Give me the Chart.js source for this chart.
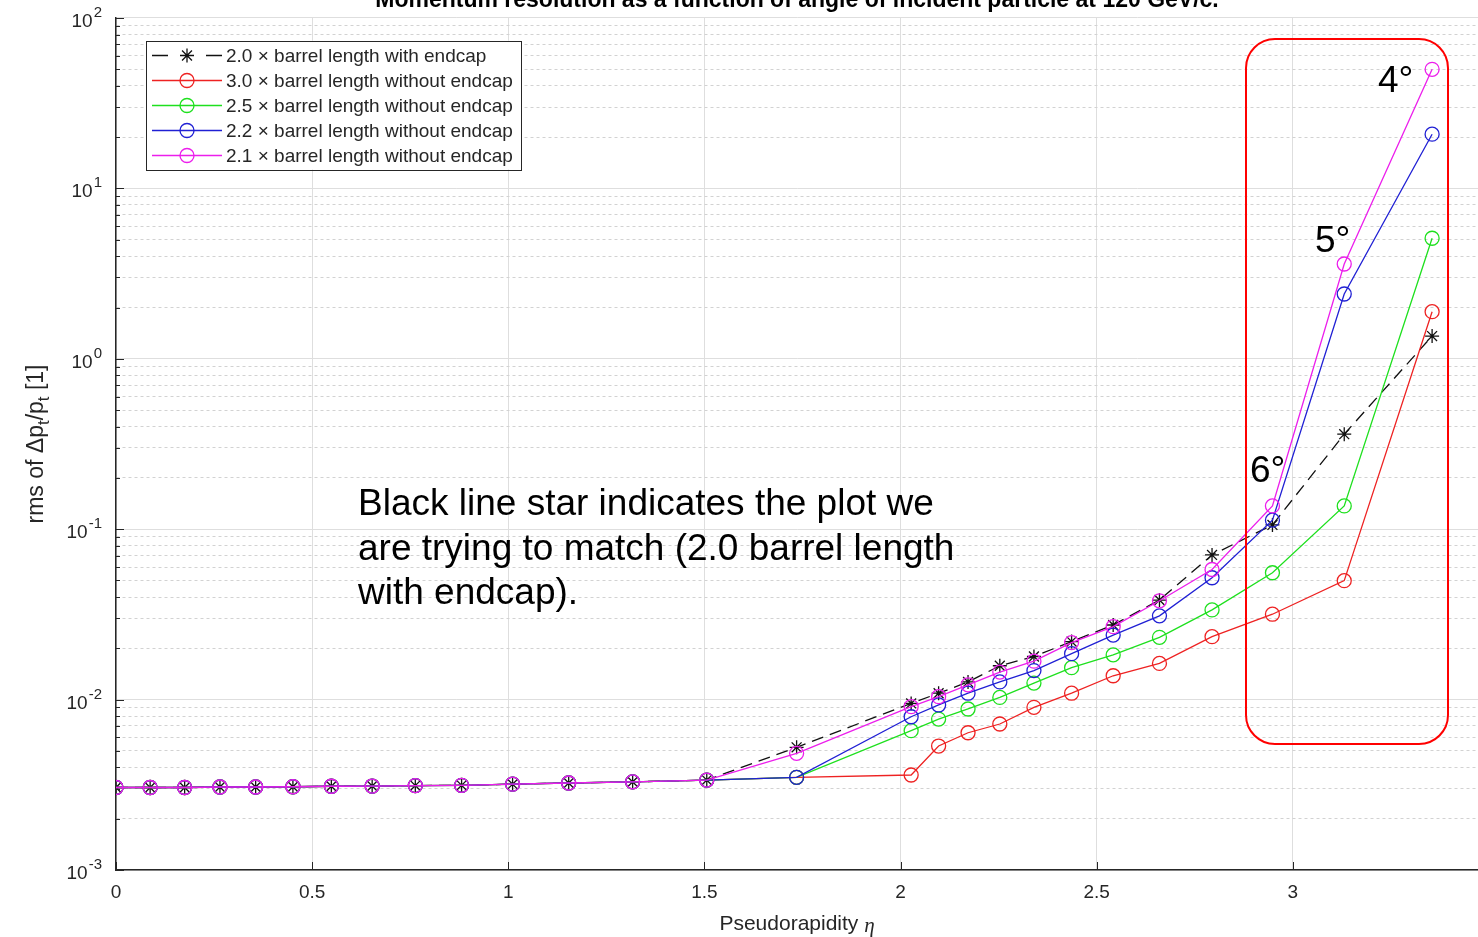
<!DOCTYPE html>
<html lang="en">
<head>
<meta charset="UTF-8">
<title>Momentum resolution</title>
<script src="https://cdn.jsdelivr.net/npm/chart.js"></script>
<style>
  body {
    margin: 0;
    padding: 0;
    background: #fff;
    overflow: hidden;
    font-family: "Liberation Sans", Arial, sans-serif;
  }
  .wrap {
    position: relative;
    width: 1478px;
    height: 937px;
    overflow: hidden;
  }
  /* canvas pushed up a little so the title is cut like in the screenshot */
  #plot {
    position: absolute;
    left: 0;
    top: -13px;
  }
  .note {
    position: absolute;
    color: #000;
    font-size: 37px;
    line-height: 44.5px;
    white-space: nowrap;
  }
  .deg {
    position: absolute;
    color: #000;
    font-size: 37px;
    line-height: 37px;
  }
  .box {
    position: absolute;
    left: 1245px;
    top: 38px;
    width: 200px;
    height: 703px;
    border: 2px solid #ff0000;
    border-radius: 30px;
  }
</style>
</head>
<body>
<div class="wrap">
  <canvas id="plot" width="1478" height="950"></canvas>
  <div class="box"></div>
  <div class="deg" style="left:1378px; top:61px">4°</div>
  <div class="deg" style="left:1315px; top:221px">5°</div>
  <div class="deg" style="left:1250px; top:451px">6°</div>
  <div class="note" style="left:358px; top:481px">Black line star indicates the plot we<br>are trying to match (2.0 barrel length<br>with endcap).</div>
</div>
<script>
  const title = 'Momentum resolution as a function of angle of incident particle at 120 GeV/c.';

  // pseudorapidity of each simulated angle
  const eta = [0, 0.087, 0.175, 0.265, 0.356, 0.451, 0.549, 0.653, 0.763, 0.881, 1.011, 1.154, 1.317, 1.506,
               1.735, 2.027, 2.097, 2.172, 2.253, 2.340, 2.436, 2.542, 2.660, 2.794, 2.948, 3.131, 3.355];

  const withEndcap20 = [3.05e-3, 3.05e-3, 3.05e-3, 3.07e-3, 3.07e-3, 3.08e-3, 3.10e-3, 3.11e-3, 3.13e-3, 3.14e-3, 3.19e-3, 3.24e-3, 3.29e-3, 3.37e-3,
                        5.25e-3, 9.5e-3, 1.09e-2, 1.27e-2, 1.58e-2, 1.79e-2, 2.19e-2, 2.74e-2, 3.84e-2, 7.06e-2, 0.106, 0.361, 1.36];
  const noEndcap30 = [3.05e-3, 3.05e-3, 3.05e-3, 3.07e-3, 3.07e-3, 3.08e-3, 3.10e-3, 3.11e-3, 3.13e-3, 3.14e-3, 3.19e-3, 3.24e-3, 3.29e-3, 3.37e-3,
                      3.50e-3, 3.61e-3, 5.34e-3, 6.39e-3, 7.19e-3, 9.01e-3, 1.09e-2, 1.38e-2, 1.63e-2, 2.34e-2, 3.17e-2, 4.99e-2, 1.89];
  const noEndcap25 = [3.05e-3, 3.05e-3, 3.05e-3, 3.07e-3, 3.07e-3, 3.08e-3, 3.10e-3, 3.11e-3, 3.13e-3, 3.14e-3, 3.19e-3, 3.24e-3, 3.29e-3, 3.37e-3,
                      3.50e-3, 6.57e-3, 7.69e-3, 8.81e-3, 1.03e-2, 1.25e-2, 1.54e-2, 1.83e-2, 2.32e-2, 3.36e-2, 5.55e-2, 0.137, 5.10];
  const noEndcap22 = [3.05e-3, 3.05e-3, 3.05e-3, 3.07e-3, 3.07e-3, 3.08e-3, 3.10e-3, 3.11e-3, 3.13e-3, 3.14e-3, 3.19e-3, 3.24e-3, 3.29e-3, 3.37e-3,
                      3.50e-3, 7.93e-3, 9.30e-3, 1.09e-2, 1.27e-2, 1.48e-2, 1.86e-2, 2.39e-2, 3.10e-2, 5.19e-2, 0.113, 2.40, 20.8];
  const noEndcap21 = [3.05e-3, 3.05e-3, 3.05e-3, 3.07e-3, 3.07e-3, 3.08e-3, 3.10e-3, 3.11e-3, 3.13e-3, 3.14e-3, 3.19e-3, 3.24e-3, 3.29e-3, 3.37e-3,
                      4.84e-3, 9.09e-3, 1.04e-2, 1.22e-2, 1.45e-2, 1.68e-2, 2.16e-2, 2.68e-2, 3.80e-2, 5.80e-2, 0.137, 3.60, 50.0];

  const labels = ['2.0 \u00d7 barrel length with endcap', '3.0 \u00d7 barrel length without endcap',
                  '2.5 \u00d7 barrel length without endcap', '2.2 \u00d7 barrel length without endcap',
                  '2.1 \u00d7 barrel length without endcap'];
  const colors = ['#111111', '#ee2222', '#1ee01e', '#2020d4', '#ec1eec'];
  const values = [withEndcap20, noEndcap30, noEndcap25, noEndcap22, noEndcap21];

  const xTicks = [0, 0.5, 1, 1.5, 2, 2.5, 3];
  const yDecades = [1e-3, 1e-2, 1e-1, 1, 10, 100];
  const yExponents = ['-3', '-2', '-1', '0', '1', '2'];

  const font = '"Liberation Sans", Arial, sans-serif';
  const textColor = '#262626';

  // minor log ticks 2..9 in every decade
  const yTickValues = [];
  yDecades.forEach((d, i) => {
    yTickValues.push(d);
    if (i < yDecades.length - 1) {
      for (let m = 2; m <= 9; m++) yTickValues.push(+(d * m).toPrecision(3));
    }
  });
  function isDecade(v) {
    const l = Math.log10(v);
    return Math.abs(l - Math.round(l)) < 1e-6;
  }

  const datasets = values.map((vals, i) => ({
    label: labels[i],
    data: eta.map((e, j) => ({x: e, y: vals[j]})),
    borderColor: colors[i],
    backgroundColor: 'rgba(0,0,0,0)',
    borderWidth: 1.3,
    borderDash: i === 0 ? [12, 7] : [],
    pointStyle: i === 0 ? 'star' : 'circle',
    pointRadius: 7,
    pointBorderWidth: 1.3,
    pointBorderColor: colors[i],
    pointBackgroundColor: 'rgba(0,0,0,0)',
    tension: 0,
    order: values.length - i
  }));

  function drawMarker(ctx, style, cx, cy, r) {
    ctx.beginPath();
    if (style === 'circle') {
      ctx.arc(cx, cy, r, 0, Math.PI * 2);
    } else {
      for (let k = 0; k < 4; k++) {
        const ang = k * Math.PI / 4;
        ctx.moveTo(cx - r * Math.cos(ang), cy - r * Math.sin(ang));
        ctx.lineTo(cx + r * Math.cos(ang), cy + r * Math.sin(ang));
      }
    }
    ctx.stroke();
  }

  const decor = {
    id: 'decor',
    afterDraw(chart) {
      const ctx = chart.ctx;
      const a = chart.chartArea;
      const x = chart.scales.x, y = chart.scales.y;
      ctx.save();

      // inward tick marks
      ctx.strokeStyle = textColor;
      ctx.lineWidth = 1;
      ctx.setLineDash([]);
      ctx.beginPath();
      y.ticks.forEach(t => {
        const py = Math.round(y.getPixelForValue(t.value)) + 0.5;
        ctx.moveTo(a.left, py);
        ctx.lineTo(a.left + (isDecade(t.value) ? 8 : 4), py);
      });
      x.ticks.forEach(t => {
        const px = Math.round(x.getPixelForValue(t.value)) + 0.5;
        ctx.moveTo(px, a.bottom);
        ctx.lineTo(px, a.bottom - 8);
      });
      ctx.stroke();

      // y tick labels 10^n
      ctx.fillStyle = textColor;
      ctx.textBaseline = 'alphabetic';
      ctx.textAlign = 'left';
      const right = a.left - 14;
      yDecades.forEach((d, i) => {
        const py = y.getPixelForValue(d);
        ctx.font = '19px ' + font;
        const wb = ctx.measureText('10').width;
        ctx.font = '15px ' + font;
        const we = ctx.measureText(yExponents[i]).width;
        const x0 = right - we - wb - 1;
        ctx.font = '19px ' + font;
        ctx.fillText('10', x0, py + 9);
        ctx.font = '15px ' + font;
        ctx.fillText(yExponents[i], x0 + wb + 1, py - 1);
      });

      // y axis title with subscripts
      const parts = [['rms of \u0394p', 0], ['t', 1], ['/p', 0], ['t', 1], [' [1]', 0]];
      const big = '23px ' + font, small = '17px ' + font;
      let total = 0;
      parts.forEach(p => { ctx.font = p[1] ? small : big; total += ctx.measureText(p[0]).width; });
      ctx.save();
      ctx.translate(37, (a.top + a.bottom) / 2);
      ctx.rotate(-Math.PI / 2);
      ctx.textBaseline = 'middle';
      let cx = -total / 2;
      parts.forEach(p => {
        ctx.font = p[1] ? small : big;
        ctx.fillText(p[0], cx, p[1] ? 7 : 0);
        cx += ctx.measureText(p[0]).width;
      });
      ctx.restore();

      // x axis title, eta in italics
      ctx.textBaseline = 'middle';
      const xt = 'Pseudorapidity ';
      ctx.font = '21px ' + font;
      const w1 = ctx.measureText(xt).width;
      ctx.font = 'italic 21px "Liberation Serif", serif';
      const w2 = ctx.measureText('\u03b7').width;
      const tx = (a.left + a.right) / 2 - (w1 + w2) / 2;
      ctx.font = '21px ' + font;
      ctx.fillText(xt, tx, a.bottom + 54);
      ctx.font = 'italic 21px "Liberation Serif", serif';
      ctx.fillText('\u03b7', tx + w1, a.bottom + 56);

      // legend box
      const lx = a.left + 30, ly = a.top + 22.6, lw = 375, lh = 129;
      ctx.fillStyle = '#fff';
      ctx.fillRect(lx, ly, lw, lh);
      ctx.strokeStyle = '#262626';
      ctx.lineWidth = 1;
      ctx.strokeRect(Math.round(lx) + 0.5, Math.round(ly) + 0.5, lw, lh);
      labels.forEach((lab, i) => {
        const ry = Math.round(ly + 14 + i * 25.2) + 0.5;
        ctx.strokeStyle = colors[i];
        ctx.lineWidth = 1.3;
        ctx.beginPath();
        if (i === 0) {
          ctx.moveTo(lx + 6, ry); ctx.lineTo(lx + 22, ry);
          ctx.moveTo(lx + 60, ry); ctx.lineTo(lx + 76, ry);
        } else {
          ctx.moveTo(lx + 6, ry); ctx.lineTo(lx + 76, ry);
        }
        ctx.stroke();
        drawMarker(ctx, i === 0 ? 'star' : 'circle', lx + 41, ry, 7);
        ctx.fillStyle = textColor;
        ctx.font = '19px ' + font;
        ctx.textBaseline = 'middle';
        ctx.fillText(lab, lx + 80, ry + 1);
      });

      ctx.restore();
    }
  };

  const chart = new Chart(document.getElementById('plot').getContext('2d'), {
    type: 'line',
    data: {datasets: datasets},
    options: {
      responsive: false,
      animation: false,
      devicePixelRatio: 1,
      layout: {autoPadding: false, padding: {left: 116, right: 0, top: 0, bottom: 0}},
      plugins: {
        legend: {display: false},
        tooltip: {enabled: false},
        title: {
          display: true,
          text: title,
          color: '#000',
          font: {family: font, size: 23, weight: 'bold'},
          padding: {top: 0, bottom: 3.4}
        }
      },
      scales: {
        x: {
          type: 'linear',
          min: 0,
          max: 3.472,
          afterBuildTicks: s => { s.ticks = xTicks.map(v => ({value: v})); },
          afterFit: s => { s.height = 67; s.paddingLeft = 0; s.paddingRight = 0; },
          grid: {color: '#dedede', lineWidth: 1, drawTicks: false},
          border: {color: textColor, width: 1.5},
          ticks: {
            padding: 11.6,
            color: textColor,
            font: {family: font, size: 19},
            callback: v => String(v)
          }
        },
        y: {
          type: 'logarithmic',
          min: 1e-3,
          max: 1e2,
          afterBuildTicks: s => { s.ticks = yTickValues.map(v => ({value: v, major: isDecade(v)})); },
          ticks: {display: false, autoSkip: false},
          grid: {
            color: c => (c.tick && !isDecade(c.tick.value)) ? '#d2d2d2' : '#dedede',
            lineWidth: 1,
            drawTicks: false
          },
          border: {
            color: textColor,
            width: 1.5,
            dash: c => (c.tick && !isDecade(c.tick.value)) ? [3, 3] : []
          }
        }
      }
    },
    plugins: [decor]
  });
</script>
</body>
</html>
